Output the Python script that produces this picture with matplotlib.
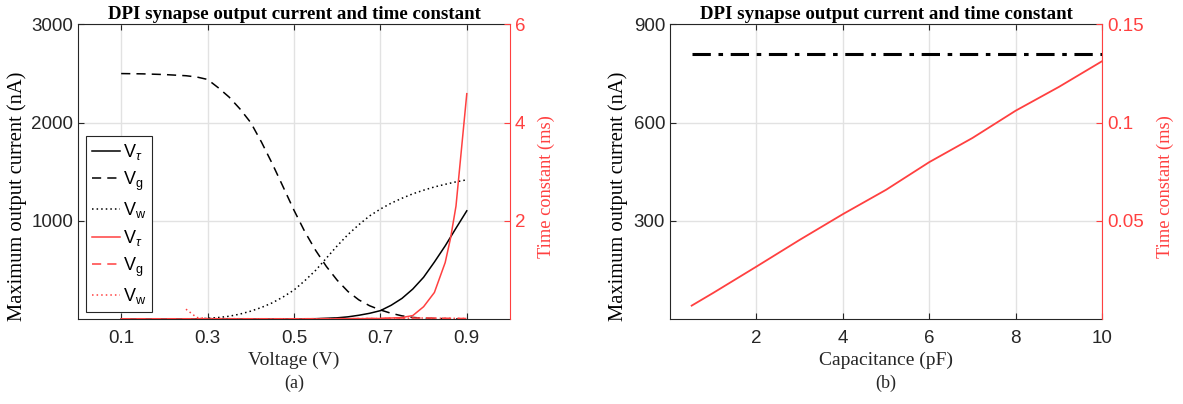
import matplotlib
matplotlib.use("Agg")
import matplotlib.pyplot as plt

# ---------- datos ----------
# (a) barrido de tensión -- corriente máxima (nA)
volt_tau = [0.1, 0.2, 0.3, 0.4, 0.5, 0.55, 0.6, 0.625, 0.65, 0.675, 0.7, 0.725, 0.75,
            0.775, 0.8, 0.825, 0.85, 0.875, 0.9]
i_vtau = [0, 0, 0, 0, 0, 3, 12, 22, 38, 58, 85, 140, 210, 305, 425, 580, 745, 925, 1102]

volt_g = [0.1, 0.15, 0.2, 0.25, 0.275, 0.3, 0.325, 0.35, 0.375, 0.4, 0.425, 0.45, 0.475,
          0.5, 0.525, 0.55, 0.575, 0.6, 0.625, 0.65, 0.675, 0.7, 0.725, 0.75, 0.775,
          0.8, 0.85, 0.9]
i_vg = [2500, 2497, 2490, 2478, 2465, 2440, 2355, 2260, 2140, 2000, 1800, 1580, 1345,
        1108, 890, 700, 535, 395, 280, 195, 135, 92, 58, 32, 16, 8, 3, 1]

volt_w = [0.25, 0.275, 0.3, 0.325, 0.35, 0.375, 0.4, 0.425, 0.45, 0.475, 0.5, 0.525,
          0.55, 0.575, 0.6, 0.625, 0.65, 0.675, 0.7, 0.725, 0.75, 0.775, 0.8, 0.825,
          0.85, 0.875, 0.9]
i_vw = [0, 2, 7, 15, 28, 50, 80, 118, 165, 225, 295, 390, 495, 620, 745, 860, 960,
        1050, 1120, 1180, 1230, 1275, 1312, 1345, 1372, 1397, 1418]

# (a) constante de tiempo (ms)
volt_t = [0.1, 0.3, 0.5, 0.6, 0.7, 0.725, 0.75, 0.775, 0.8, 0.825, 0.85, 0.8625, 0.875, 0.9]
tau_vtau = [0, 0, 0, 0.003, 0.01, 0.02, 0.03, 0.07, 0.25, 0.54, 1.15, 1.65, 2.3, 4.59]
volt_tg = [0.1, 0.3, 0.5, 0.7, 0.75, 0.8, 0.85, 0.9]
tau_vg = [0.005, 0.005, 0.005, 0.01, 0.02, 0.02, 0.015, 0.01]
volt_tw = [0.25, 0.275, 0.3, 0.4, 0.5, 0.6, 0.7, 0.8, 0.9]
tau_vw = [0.2, 0.03, 0.01, 0.005, 0.005, 0.005, 0.01, 0.02, 0.01]

# (b) barrido de capacidad
cap = [0.5, 1, 2, 3, 4, 5, 6, 7, 8, 9, 10]
i_cap = [811, 811, 811, 811, 811, 811, 811, 811, 811, 811, 811]
tau_cap = [0.0068, 0.0133, 0.0267, 0.0403, 0.0534, 0.0658, 0.0799, 0.0922, 0.1061, 0.1182, 0.1313]

ROJO = "#ff4040"
GRIS = "#262626"
SERIF = "Liberation Serif"
SANS = "Liberation Sans"
plt.rcParams["font.family"] = SANS
plt.rcParams["mathtext.fontset"] = "custom"
plt.rcParams["mathtext.rm"] = SANS
plt.rcParams["mathtext.it"] = SANS + ":italic"


def preparar_ejes(ax, ax2, xlim, xticks, xticklabels, ylim, yticks, yticklabels,
                  y2lim, y2ticks, y2ticklabels, xlabel, letra, ylabel_x):
    ax.set_xlim(*xlim)
    ax.set_ylim(*ylim)
    ax2.set_ylim(*y2lim)
    ax.set_xticks(xticks)
    ax.set_xticklabels(xticklabels)
    ax.set_yticks(yticks)
    ax.set_yticklabels(yticklabels)
    ax2.set_yticks(y2ticks)
    ax2.set_yticklabels(y2ticklabels)
    ax.grid(True, color="#e2e2e2", linewidth=1.0)
    ax.set_axisbelow(True)
    ax.tick_params(axis="x", direction="in", top=True, length=4, pad=8, labelsize=13.5, colors=GRIS)
    ax.tick_params(axis="y", direction="in", length=4, labelsize=13.5, colors=GRIS)
    ax2.tick_params(axis="y", direction="in", length=4, labelsize=13.5, colors=ROJO)
    for s in ["left", "bottom", "top"]:
        ax.spines[s].set_color(GRIS)
    ax.spines["right"].set_visible(False)
    ax2.spines["right"].set_color(ROJO)
    for s in ["left", "bottom", "top"]:
        ax2.spines[s].set_visible(False)
    ax.set_title("DPI synapse output current and time constant", family=SERIF,
                 fontweight="bold", fontsize=13.6, pad=4)
    ax.set_ylabel("Maximum output current (nA)", family=SERIF, fontsize=14.8)
    ax.yaxis.set_label_coords(ylabel_x, 0.418)
    ax2.set_ylabel("Time constant (ms)", family=SERIF, fontsize=13.2, color=ROJO, labelpad=9)
    ax2.yaxis.label.set_y(0.45)
    ax.set_xlabel(xlabel, family=SERIF, fontsize=14, color=GRIS, labelpad=3)
    ax.text(0.5, -0.218, letra, transform=ax.transAxes, ha="center", va="center",
            family=SERIF, fontsize=13, color=GRIS)


fig = plt.figure(figsize=(11.83, 4.04), dpi=100)
ax_a = fig.add_axes([0.0659, 0.2104, 0.3652, 0.729])
ax_b = fig.add_axes([0.5664, 0.2104, 0.3652, 0.729])
ax_a2 = ax_a.twinx()
ax_b2 = ax_b.twinx()

# ---------- (a) ----------
l1, = ax_a.plot(volt_tau, i_vtau, color="black", linestyle="-", linewidth=1.1, label=r"V$_\tau$")
l2, = ax_a.plot(volt_g, i_vg, color="black", linestyle=(0, (6, 4)), linewidth=1.1, label=r"V$_\mathrm{g}$")
l3, = ax_a.plot(volt_w, i_vw, color="black", linestyle=(0, (1, 2)), linewidth=1.1, label=r"V$_\mathrm{w}$")
l4, = ax_a2.plot(volt_t, tau_vtau, color=ROJO, linestyle="-", linewidth=1.1, label=r"V$_\tau$")
l5, = ax_a2.plot(volt_tg, tau_vg, color=ROJO, linestyle=(0, (6, 4)), linewidth=1.1, label=r"V$_\mathrm{g}$")
l6, = ax_a2.plot(volt_tw, tau_vw, color=ROJO, linestyle=(0, (1, 2)), linewidth=1.1, label=r"V$_\mathrm{w}$")

preparar_ejes(ax_a, ax_a2, (0, 1), [0.1, 0.3, 0.5, 0.7, 0.9], ["0.1", "0.3", "0.5", "0.7", "0.9"],
              (0, 3000), [1000, 2000, 3000], ["1000", "2000", "3000"],
              (0, 6), [2, 4, 6], ["2", "4", "6"], "Voltage (V)", "(a)", -0.117)

leg = ax_a2.legend(handles=[l1, l2, l3, l4, l5, l6], loc="lower left",
                   bbox_to_anchor=(0.019, 0.025), borderaxespad=0, fontsize=13,
                   handlelength=1.55, handletextpad=0.2, labelspacing=0.42, borderpad=0.3,
                   fancybox=False, framealpha=1, edgecolor=GRIS)
leg.get_frame().set_linewidth(0.8)

# ---------- (b) ----------
ax_b.plot(cap, i_cap, color="black", linestyle=(0, (6, 2.5, 1.5, 2.5)), linewidth=2.2)
ax_b2.plot(cap, tau_cap, color=ROJO, linewidth=1.3)

preparar_ejes(ax_b, ax_b2, (0, 10), [2, 4, 6, 8, 10], ["2", "4", "6", "8", "10"],
              (0, 900), [300, 600, 900], ["300", "600", "900"],
              (0, 0.15), [0.05, 0.1, 0.15], ["0.05", "0.1", "0.15"], "Capacitance (pF)", "(b)", -0.097)

fig.savefig("out.png", dpi=100)
